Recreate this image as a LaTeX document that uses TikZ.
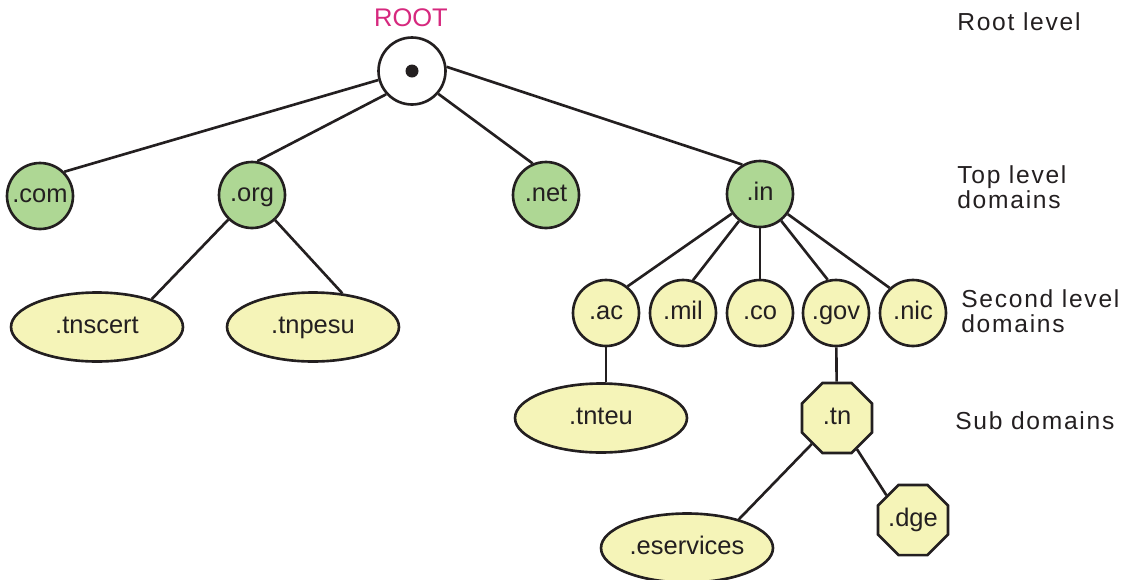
\documentclass[tikz,border=0pt]{standalone}
\usepackage{fontspec}
\setmainfont{Liberation Sans}
\newfontfamily\lvlfont{Liberation Sans}[LetterSpace=7]
\usepackage{xcolor}
\usetikzlibrary{shapes.geometric}

\definecolor{tldgreen}{HTML}{AED794}
\definecolor{sldyellow}{HTML}{F5F4B8}
\definecolor{rootpink}{HTML}{D6287E}
\definecolor{inkblack}{HTML}{231F20}

\begin{document}
\begin{tikzpicture}[
    x=0.02cm, y=-0.02cm,
    every node/.style={font=\fontsize{14.5}{17}\selectfont,text=inkblack},
    dom/.style={circle,draw=inkblack,line width=1.5pt,inner sep=0pt,
                minimum size=1.32cm,text height=10.6pt,text depth=3pt},
    tld/.style={dom,fill=tldgreen},
    sld/.style={dom,fill=sldyellow},
    host/.style={ellipse,draw=inkblack,line width=1.5pt,fill=sldyellow,
                 inner sep=0pt,minimum width=3.44cm,minimum height=1.38cm,
                 text height=10.6pt,text depth=3pt},
    subdom/.style={regular polygon,regular polygon sides=8,draw=inkblack,
                   line width=1.5pt,fill=sldyellow,inner sep=0pt,
                   minimum size=1.515cm,text height=10.6pt,text depth=3pt},
    link/.style={line width=1.5pt,draw=inkblack},
    lvl/.style={anchor=west,align=left,inner sep=0pt,
                font=\lvlfont\fontsize{14}{14.2}\selectfont},
  ]
  \useasboundingbox (0,0) rectangle (1127,579);

  % -- the root --
  \node[text=rootpink] (roottxt) at (411,18) {ROOT};
  \node[dom,fill=white,minimum size=1.34cm] (root) at (412,71) {};
  \fill[inkblack] (root.center) circle (0.13cm);

  % -- top level domains --
  \node[tld] (com) at ( 40,196) {.com};
  \node[tld] (org) at (252,195) {.org};
  \node[tld] (net) at (546,195) {.net};
  \node[tld] (in)  at (760,194) {.in};

  % -- second level domains --
  \node[host] (tnscert) at ( 97,327) {.tnscert};
  \node[host] (tnpesu)  at (313,327) {.tnpesu};
  \node[sld] (ac)  at (606,313) {.ac};
  \node[sld] (mil) at (683,313) {.mil};
  \node[sld] (co)  at (760,313) {.co};
  \node[sld] (gov) at (836,313) {.gov};
  \node[sld] (nic) at (913,313) {.nic};

  % -- sub domains --
  \node[host]   (tnteu)     at (601,418) {.tnteu};
  \node[subdom] (tn)        at (837,418) {.tn};
  \node[subdom] (dge)       at (913,520) {.dge};
  \node[host]   (eservices) at (687,548) {.eservices};

  % -- the links --
  \draw[link] (root.195) -- (com.45);
  \draw[link] (root.222) -- (org.81);
  \draw[link] (root.319) -- (net.113);
  \draw[link] (root.7)   -- (in.121);
  \draw[link] (org) -- (tnscert.27);
  \draw[link] (org) -- (tnpesu.49);
  \draw[link] (in) -- (ac.51);
  \draw[link] (in) -- (mil.73);
  \draw[link] (in) -- (co);
  \draw[link] (in) -- (gov.104);
  \draw[link] (in) -- (nic.133);
  \draw[link] (ac) -- (ac |- tnteu.north);
  \draw[link] (gov) -- (tn);
  \draw[link] (tn) -- (eservices.29);
  \draw[link] (tn) -- (dge.137);

  % -- the levels, on the right --
  \node[lvl] (lroot)   at (957, 22) {Root level};
  \node[lvl] (ltop)    at (957,187) {Top level\\domains};
  \node[lvl] (lsecond) at (961,311) {Second level\\domains};
  \node[lvl] (lsub)    at (955,421) {Sub domains};
\end{tikzpicture}
\end{document}
